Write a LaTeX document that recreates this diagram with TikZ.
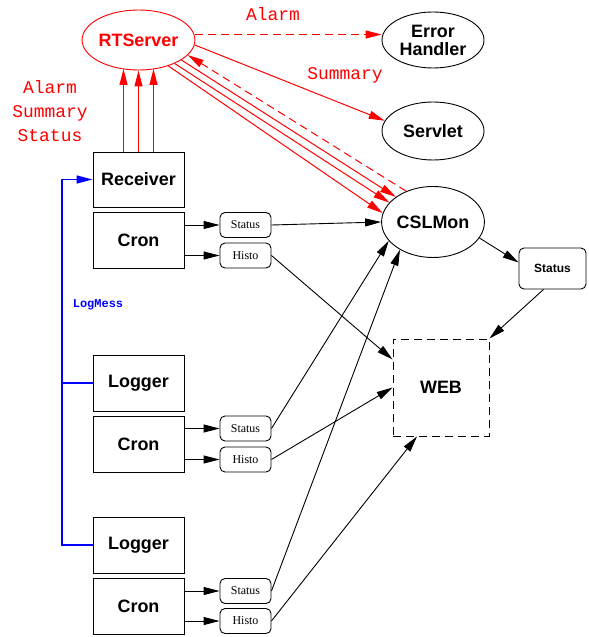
\documentclass[tikz,border=0pt]{standalone}
\usepackage{fontspec}
\usepackage{tikz}
\usetikzlibrary{arrows.meta,shapes.geometric,positioning}
\newfontfamily\helv{Liberation Sans}
\newfontfamily\tms{Liberation Serif}
\newfontfamily\crr{Liberation Mono}
\definecolor{logblue}{rgb}{0.0, 0.0, 1.0}
\tikzset{
  bignode/.style={draw, ellipse, line width=0.9bp, inner sep=0pt, minimum width=101bp, font={\helv\bfseries\fontsize{18}{20}\selectfont}, align=center},
  procbox/.style={draw, rectangle, line width=0.9bp, inner sep=0pt, minimum width=91bp, minimum height=56bp, font={\helv\bfseries\fontsize{18}{20}\selectfont}},
  msgbox/.style={draw, rectangle, line width=0.9bp, rounded corners=5bp, inner sep=0pt, minimum width=51bp, minimum height=25bp, font={\tms\fontsize{12}{14}\selectfont}},
  redlabel/.style={text=red, font={\crr\fontsize{18}{24.5}\selectfont}, align=center},
  redline/.style={draw=red, line width=1bp},
  redalarm/.style={draw=red, line width=1bp, dash pattern=on 8bp off 5bp},
  blkline/.style={draw=black, line width=0.9bp},
  logline/.style={draw=logblue, line width=1.4bp}
}
\begin{document}
\begin{tikzpicture}[x=1bp, y=1bp, >={Triangle[length=16bp,width=8bp]}]
  \useasboundingbox (0,0) rectangle (589,-637);

  \node at (138.5,-40) [bignode, draw=red, text=red, minimum height=60bp] (rts) {RTServer};
  \node at (433,-40) [bignode, minimum width=102bp, minimum height=56bp] (err) {Error\\[-2pt]Handler};
  \node at (433,-131) [bignode, minimum width=102bp, minimum height=58bp] (srv) {Servlet};
  \node at (433,-222) [bignode, minimum height=71bp] (csl) {CSLMon};

  \node at (138.5,-179.5) [procbox, minimum height=55bp] (rec) {Receiver};
  \node at (138.5,-240) [procbox] (cr1) {Cron};
  \node at (245.5,-225) [msgbox] (st1) {Status};
  \node at (245.5,-255.5) [msgbox] (hi1) {Histo};

  \node at (138.5,-383) [procbox] (lg1) {Logger};
  \node at (138.5,-444) [procbox] (cr2) {Cron};
  \node at (245.5,-428.5) [msgbox] (st2) {Status};
  \node at (245.5,-459.5) [msgbox] (hi2) {Histo};

  \node at (138.5,-545) [procbox] (lg2) {Logger};
  \node at (138.5,-606.5) [procbox] (cr3) {Cron};
  \node at (245.5,-591) [msgbox] (st3) {Status};
  \node at (245.5,-621) [msgbox] (hi3) {Histo};

  \node at (441,-387.5) [draw, rectangle, line width=0.9bp, dash pattern=on 8bp off 5bp, minimum width=96bp, minimum height=97bp, inner sep=0pt, font={\helv\bfseries\fontsize{18}{20}\selectfont}] (web) {WEB};
  \node at (552.5,-268.5) [draw, rectangle, line width=0.9bp, rounded corners=5bp, minimum width=67bp, minimum height=41bp, inner sep=0pt, font={\helv\bfseries\fontsize{12}{14}\selectfont}] (rs) {Status};

  \node at (273,-14) [redlabel] (lalarm) {Alarm};
  \node at (345,-75) [redlabel] (lsum) {Summary};
  \node at (50,-111) [redlabel] (lin) {Alarm\\Summary\\Status};
  \node at (98,-305) [text=logblue, font={\crr\bfseries\fontsize{12}{14}\selectfont}] (lmess) {LogMess};

  \draw[redline,->,fill=red] ([xshift=-15bp]rec.north) -- ([xshift=-15bp,yshift=1.5bp]rts.south);
  \draw[redline,->,fill=red] (rec.north) -- (rts.south);
  \draw[redline,->,fill=red] ([xshift=15bp]rec.north) -- ([xshift=15bp,yshift=1.5bp]rts.south);

  \draw[redalarm,-{Triangle[length=16bp,width=8bp,fill=red]}] ([yshift=5.5bp]rts.east) -- ([yshift=5.5bp]err.west);
  \draw[redline,-{Triangle[length=16bp,width=8bp,fill=red]}] (rts.-5) -- (srv.168);
  \draw[redline,-{Triangle[length=16bp,width=8bp,fill=red]}] (rts.-41) -- (csl.170);
  \draw[redline,-{Triangle[length=16bp,width=8bp,fill=red]}] (rts.-33) -- (csl.156);
  \draw[redline,-{Triangle[length=16bp,width=8bp,fill=red]}] (rts.-25) -- (csl.146);
  \draw[redalarm,-{Triangle[length=16bp,width=8bp,fill=red]}] (csl.131) -- (rts.-17);

  \draw[blkline,->] (cr1.east |- st1) -- (st1.west);
  \draw[blkline,->] (cr1.east |- hi1) -- (hi1.west);
  \draw[blkline,->] (cr2.east |- st2) -- (st2.west);
  \draw[blkline,->] (cr2.east |- hi2) -- (hi2.west);
  \draw[blkline,->] (cr3.east |- st3) -- (st3.west);
  \draw[blkline,->] (cr3.east |- hi3) -- (hi3.west);

  \draw[blkline,->] (st1.east) -- (csl.west);
  \draw[blkline,->] (hi1.east) -- ([yshift=28bp]web.west);
  \draw[blkline,->] (st2.east) -- (csl.203);
  \draw[blkline,->] (hi2.east) -- (web.west);
  \draw[blkline,->] (st3.east) -- (csl.220);
  \draw[blkline,->] (hi3.east) -- ([xshift=-24bp]web.south);

  \draw[blkline,->] (csl.-19) -- ([yshift=6bp]rs.west);
  \draw[blkline,->] ([xshift=-9bp]rs.south) -- (web.north east);

  \draw[logline,-{Triangle[length=16bp,width=8bp,fill=logblue]}] (lg2.west) -- ++(-30.5bp,0) |- (rec.west);
  \draw[logline] (lg1.west) -- ++(-30.5bp,0);
\end{tikzpicture}
\end{document}
